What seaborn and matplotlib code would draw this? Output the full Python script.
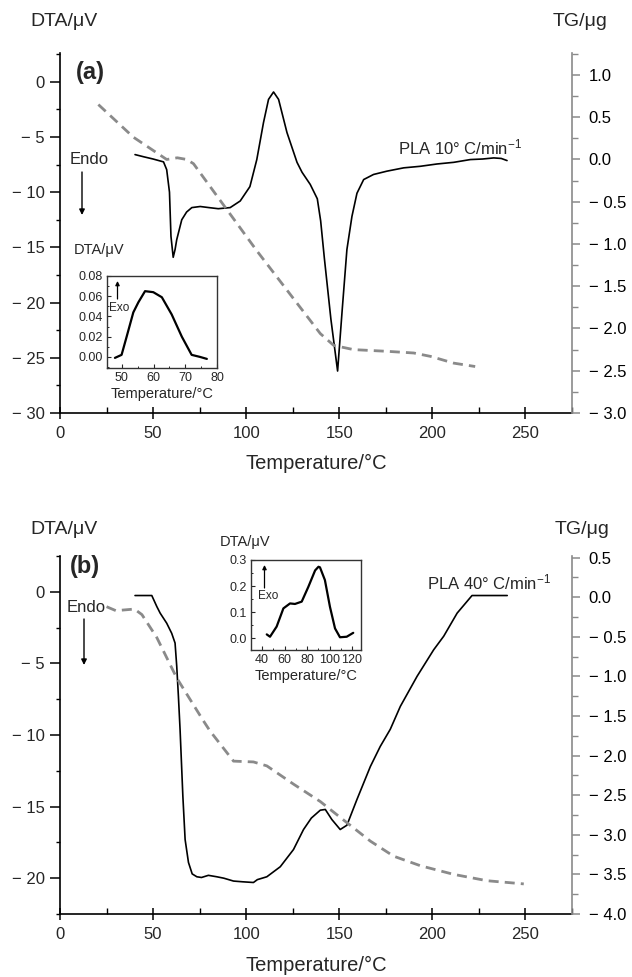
import matplotlib
matplotlib.use("Agg")
import matplotlib.pyplot as plt
import seaborn as sns
from matplotlib.ticker import FixedLocator, MultipleLocator, FuncFormatter

# ---------------- data ----------------
# Panel (a): PLA 10 C/min
a_dta_temp = [40.3, 45, 50, 55.6, 57.3, 58.8, 59.6, 60.8, 61.8, 62.7, 65.4, 68, 70.8, 75.3, 80, 85,
              91.4, 96.8, 102, 105.7, 109.3, 112, 114.7, 117.4, 121.9, 127.3, 130, 134.4, 138.2,
              140, 142, 145.5, 149.1, 151.6, 154.1, 156.8, 159.5, 163.1, 168.4, 175.6, 184.6,
              193.5, 202.5, 211.5, 220.4, 227, 233, 237, 240.1]
a_dta_val = [-6.6, -6.8, -7.0, -7.26, -7.96, -10, -14, -15.9, -15.2, -14.3, -12.5, -11.8, -11.4,
             -11.3, -11.4, -11.5, -11.4, -10.8, -9.5, -7.05, -3.7, -1.6, -0.93, -1.6, -4.6, -7.3,
             -8.2, -9.3, -10.6, -12.6, -16.0, -21.5, -26.2, -20.6, -15.2, -12.2, -10.1, -8.86, -8.4,
             -8.1, -7.8, -7.66, -7.45, -7.3, -7.05, -7.0, -6.9, -6.95, -7.14]
a_tg_temp = [20.6, 39.4, 57.3, 63, 68.1, 71.7, 105.7, 139.8, 147, 157.7, 175.6, 190, 199, 211.5, 223]
a_tg_val = [0.65, 0.264, 0.0, 0.02, 0.0, -0.05, -1.08, -2.06, -2.2, -2.25, -2.27, -2.29, -2.33,
            -2.41, -2.45]
a_in_temp = [47.8, 49.9, 51.5, 53.6, 55.2, 57.3, 59.9, 62.6, 65.7, 68.9, 72, 74.6, 76.8]
a_in_val = [-0.001, 0.002, 0.020, 0.044, 0.054, 0.065, 0.064, 0.059, 0.042, 0.020, 0.002, 0.000,
            -0.002]

# Panel (b): PLA 40 C/min
b_dta_temp = [40.3, 49.3, 52, 53.8, 57.3, 60, 61.8, 62.7, 63.6, 64.5, 66, 67.2, 69, 71, 73.5, 76,
              79.7, 84.2, 88, 93.2, 98, 103.9, 106, 111.1, 118.3, 125.4, 130.8, 135, 139.8, 142.5,
              146, 150.5, 154.1, 159.5, 166.7, 172, 177.4, 182.8, 191.8, 200.7, 206.1, 213.3,
              221.3, 240.2]
b_dta_val = [-0.26, -0.26, -1.03, -1.49, -2.19, -2.9, -3.58, -5.2, -7.3, -9.64, -14.3, -17.3,
             -18.9, -19.7, -19.9, -19.95, -19.8, -19.9, -20.0, -20.2, -20.25, -20.3, -20.1, -19.9,
             -19.2, -18.0, -16.6, -15.8, -15.25, -15.2, -15.9, -16.6, -16.3, -14.5, -12.2, -10.8,
             -9.6, -8.0, -5.9, -4.05, -3.1, -1.49, -0.26, -0.26]
b_tg_temp = [25, 30, 40, 44, 52, 62.7, 77, 80.6, 93.2, 103.9, 111.1, 125.4, 139.8, 150.5, 166.7,
             179.2, 193.5, 211.5, 229.4, 249.1]
b_tg_val = [-0.12, -0.17, -0.15, -0.22, -0.51, -1.02, -1.56, -1.69, -2.07, -2.08, -2.13, -2.36,
            -2.58, -2.78, -3.08, -3.27, -3.39, -3.5, -3.58, -3.62]
b_in_temp = [44.2, 47.1, 53, 59, 64.9, 69.3, 75.3, 81.2, 87.2, 90.2, 91.5, 95.9, 100.4, 104.9,
             109.3, 115.3, 121.1]
b_in_val = [0.014, 0.005, 0.044, 0.114, 0.133, 0.131, 0.140, 0.197, 0.26, 0.274, 0.272, 0.223,
            0.12, 0.037, 0.003, 0.005, 0.02]

temp_ticks = [0, 50, 100, 150, 200, 250]
a_dta_ticks = [0, -5, -10, -15, -20, -25, -30]
a_tg_ticks = [1.0, 0.5, 0.0, -0.5, -1.0, -1.5, -2.0, -2.5, -3.0]
b_dta_ticks = [0, -5, -10, -15, -20]
b_tg_ticks = [0.5, 0.0, -0.5, -1.0, -1.5, -2.0, -2.5, -3.0, -3.5, -4.0]
a_in_xticks = [50, 60, 70, 80]
a_in_yticks = [0.00, 0.02, 0.04, 0.06, 0.08]
b_in_xticks = [40, 60, 80, 100, 120]
b_in_yticks = [0.0, 0.1, 0.2, 0.3]

# ---------------- style ----------------
sns.set_theme(style="ticks")
plt.rcParams['font.family'] = ['Liberation Sans', 'DejaVu Sans']
plt.rcParams['mathtext.fontset'] = 'custom'
plt.rcParams['mathtext.rm'] = 'Liberation Sans'
plt.rcParams['mathtext.it'] = 'Liberation Sans'

W, H = 632, 977
fig = plt.figure(figsize=(W / 100, H / 100), dpi=100)
GRAY = '#8a8a8a'


def fx(px):
    return px / W


def fy(py):
    return 1 - py / H


def box(l, t, r, b):
    return [fx(l), fy(b), (r - l) / W, (b - t) / H]


def minus_fmt(dec):
    def f(v, pos):
        s = f"{abs(v):.{dec}f}"
        if v < -1e-9:
            return "\u2212 " + s
        return s
    return FuncFormatter(f)


def text(px, py, s, **kw):
    kw.setdefault('va', 'center')
    kw.setdefault('ha', 'left')
    fig.text(fx(px), fy(py), s, **kw)


def arrow(x0, y0, x1, y1, lw=1.0, ms=8):
    fig.add_artist(matplotlib.patches.FancyArrowPatch(
        (fx(x0), fy(y0)), (fx(x1), fy(y1)), transform=fig.transFigure,
        arrowstyle='-|>', mutation_scale=ms, color='black', lw=lw,
        shrinkA=0, shrinkB=0))


def main_panel(pos, dta_t, dta_v, tg_t, tg_v, ylim, yticks, tglim, tgticks):
    ax = fig.add_axes(pos)
    sns.lineplot(x=dta_t, y=dta_v, ax=ax, color='black', lw=1.2, sort=False, estimator=None)
    ax.set_xlim(0, 275)
    ax.set_ylim(*ylim)
    ax.xaxis.set_major_locator(FixedLocator(temp_ticks))
    ax.xaxis.set_minor_locator(MultipleLocator(25))
    ax.yaxis.set_major_locator(FixedLocator(yticks))
    ax.yaxis.set_minor_locator(MultipleLocator(2.5))
    ax.yaxis.set_major_formatter(minus_fmt(0))
    ax.set_xlabel('')
    ax.set_ylabel('')
    ax.patch.set_alpha(0)
    for s in ['top', 'right']:
        ax.spines[s].set_visible(False)
    for s in ['left', 'bottom']:
        ax.spines[s].set_linewidth(1.2)
        ax.spines[s].set_color('black')
    ax.tick_params(axis='y', which='major', direction='out', length=7, width=1.1,
                   labelsize=12, pad=4, color='black')
    ax.tick_params(axis='y', which='minor', direction='out', length=3, width=1.0, color='black')
    ax.tick_params(axis='x', which='major', direction='inout', length=9, width=1.1,
                   labelsize=12, pad=5, color='black')
    ax.tick_params(axis='x', which='minor', direction='in', length=4, width=1.0, color='black')

    ax2 = ax.twinx()
    sns.lineplot(x=tg_t, y=tg_v, ax=ax2, color=GRAY, lw=2.0, sort=False, estimator=None)
    ax2.lines[0].set_dashes([3.6, 2.2])
    ax2.set_ylim(*tglim)
    ax2.yaxis.set_major_locator(FixedLocator(tgticks))
    ax2.yaxis.set_minor_locator(MultipleLocator(0.25))
    ax2.yaxis.set_major_formatter(minus_fmt(1))
    ax2.set_ylabel('')
    ax2.set_xlabel('')
    for s in ['top', 'left', 'bottom']:
        ax2.spines[s].set_visible(False)
    ax2.spines['right'].set_color(GRAY)
    ax2.spines['right'].set_linewidth(1.2)
    ax2.tick_params(axis='y', which='major', direction='out', length=6, width=1.1,
                    labelsize=12, pad=6, color=GRAY, labelcolor='black')
    ax2.tick_params(axis='y', which='minor', direction='out', length=4, width=1.0, color=GRAY)
    return ax, ax2


def inset(pos, t, v, xlim, ylim, xticks, yticks, ydec, xminor, yminor):
    ins = fig.add_axes(pos)
    sns.lineplot(x=t, y=v, ax=ins, color='black', lw=1.6, sort=False, estimator=None)
    ins.set_xlim(*xlim)
    ins.set_ylim(*ylim)
    ins.xaxis.set_major_locator(FixedLocator(xticks))
    ins.yaxis.set_major_locator(FixedLocator(yticks))
    ins.xaxis.set_minor_locator(MultipleLocator(xminor))
    ins.yaxis.set_minor_locator(MultipleLocator(yminor))
    ins.yaxis.set_major_formatter(FuncFormatter(lambda val, p: f"{val:.{ydec}f}"))
    ins.set_ylabel('')
    ins.set_xlabel('Temperature/°C', fontsize=10.5, labelpad=2)
    for s in ins.spines.values():
        s.set_linewidth(1.0)
        s.set_color('#333333')
    ins.tick_params(which='major', direction='in', length=3, width=0.8, labelsize=9, pad=3)
    ins.tick_params(which='minor', direction='in', length=1.5, width=0.7)
    return ins


# ---------------- panel (a) ----------------
main_panel(box(60, 53, 572, 413), a_dta_temp, a_dta_val, a_tg_temp, a_tg_val,
           (-30, 2.6), a_dta_ticks, (-3.0, 1.26), a_tg_ticks)
inset(box(107, 276, 217, 368), a_in_temp, a_in_val, (45.3, 80), (-0.011, 0.08),
      a_in_xticks, a_in_yticks, 2, 5, 0.01)

text(30, 22, 'DTA/μV', fontsize=14)
text(553, 22, 'TG/μg', fontsize=14)
text(76, 72, '(a)', fontsize=17, fontweight='bold')
text(70, 160, 'Endo', fontsize=12)
arrow(82, 172, 82, 215)
text(398, 147, 'PLA 10° C/min$^{\u22121}$', fontsize=12)
text(316, 463, 'Temperature/°C', fontsize=14.5, ha='center')
text(74, 250, 'DTA/μV', fontsize=10.5)
arrow(117.5, 299, 117.5, 281, lw=0.9, ms=6)
text(109, 308, 'Exo', fontsize=8.5)

# ---------------- panel (b) ----------------
main_panel(box(60, 556, 572, 914), b_dta_temp, b_dta_val, b_tg_temp, b_tg_val,
           (-22.5, 2.5), b_dta_ticks, (-4.0, 0.52), b_tg_ticks)
inset(box(251, 560, 361, 650), b_in_temp, b_in_val, (30.2, 128), (-0.046, 0.3),
      b_in_xticks, b_in_yticks, 1, 10, 0.05)

text(30, 530, 'DTA/μV', fontsize=14)
text(555, 530, 'TG/μg', fontsize=14)
text(70, 567, '(b)', fontsize=17, fontweight='bold')
text(67, 608, 'Endo', fontsize=12)
arrow(84, 619, 84, 665)
text(427, 582, 'PLA 40° C/min$^{\u22121}$', fontsize=12)
text(316, 965, 'Temperature/°C', fontsize=14.5, ha='center')
text(220, 542, 'DTA/μV', fontsize=10.5)
arrow(264.5, 588, 264.5, 565, lw=0.9, ms=6)
text(258, 596, 'Exo', fontsize=8.5)

fig.savefig('out.png', dpi=100)
